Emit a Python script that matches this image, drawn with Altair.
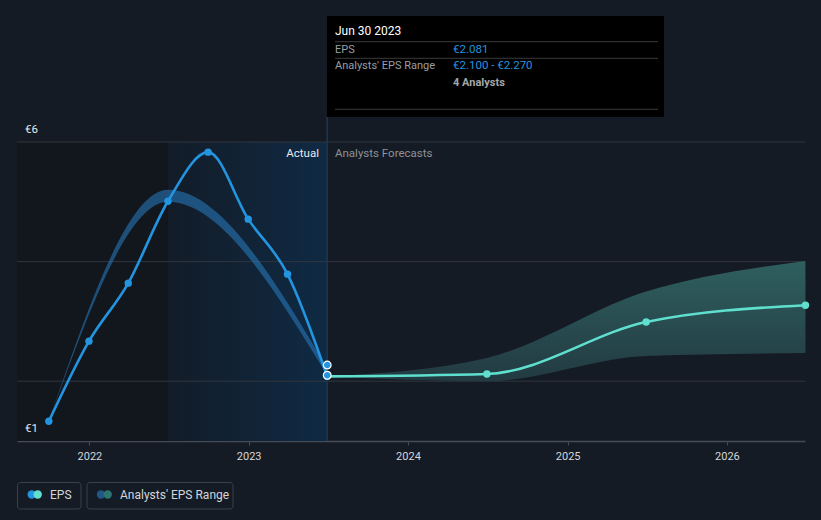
import altair as alt
import pandas as pd
import jinja2

# ---- data ----
actual_dates = ["2021-09-30", "2021-12-31", "2022-03-31", "2022-06-30",
                "2022-09-30", "2022-12-31", "2023-03-31", "2023-06-30"]
actual_eps = [1.33, 2.67, 3.64, 5.01, 5.83, 4.71, 3.79, 2.08]

hist_range_dates = ["2021-09-30", "2022-06-30", "2023-06-30"]
hist_range_low = [1.33, 5.00, 2.10]
hist_range_high = [1.33, 5.20, 2.22]

fc_dates = ["2023-06-30", "2024-06-30", "2025-06-30", "2026-06-30"]
fc_eps = [2.08, 2.12, 2.99, 3.27]
fc_low = [2.08, 2.00, 2.42, 2.47]
fc_high = [2.08, 2.39, 3.50, 4.01]

range_marker_values = [2.10, 2.27]
range_marker_date = "2023-06-30"

x_domain = ["2021-07-19", "2026-06-29"]
y_domain = [1, 6]
grid_values = [2, 4, 6]
y_label_values = [6, 1]
y_label_texts = ["€6", "€1"]
year_ticks = ["2022-01-01", "2023-01-01", "2024-01-01", "2025-01-01", "2026-01-01"]

region_past = {"start": "2021-07-19", "end": "2022-06-30"}
region_actual = {"start": "2022-06-30", "end": "2023-06-30"}

W, H = 788, 299
FONT = "Roboto"
BG = "#151b24"
BLUE = "#2394df"
TEAL = "#5fe0cf"

actual_df = pd.DataFrame({"date": actual_dates, "eps": actual_eps})
hist_df = pd.DataFrame({"date": hist_range_dates, "low": hist_range_low, "high": hist_range_high})
fc_df = pd.DataFrame({"date": fc_dates, "eps": fc_eps, "low": fc_low, "high": fc_high})
marker_df = pd.DataFrame({"date": [range_marker_date] * 2, "v": range_marker_values})
ylab_df = pd.DataFrame({"v": y_label_values, "t": y_label_texts})

xscale = alt.Scale(domain=x_domain)
yscale = alt.Scale(domain=y_domain, nice=False, zero=False)


def X(f="date"):
    return alt.X(f"{f}:T", scale=xscale, title=None,
                 axis=alt.Axis(values=year_ticks, format="%Y", labelColor="#d3d6db",
                               labelFont=FONT, labelFontSize=11, labelPadding=5,
                               tickColor="#454b55", tickSize=4, domainColor="#454b55",
                               domainWidth=1.5, grid=False, labelFlush=False))


# shaded regions
past_rect = alt.Chart(pd.DataFrame([region_past])).mark_rect(color="#12161d").encode(
    x=X("start"), x2="end:T", y=alt.value(0), y2=alt.value(H))
actual_rect = alt.Chart(pd.DataFrame([region_actual])).mark_rect(
    fill=alt.Gradient(gradient="linear", x1=0, x2=1, y1=0, y2=0,
                      stops=[alt.GradientStop(color="#131c28", offset=0),
                             alt.GradientStop(color="#0f2a44", offset=1)])).encode(
    x=X("start"), x2="end:T", y=alt.value(0), y2=alt.value(H))

grid = alt.Chart(pd.DataFrame({"v": grid_values})).mark_rule(color="#30363f", strokeWidth=1).encode(
    y=alt.Y("v:Q", scale=yscale, axis=None))

ylabels = alt.Chart(ylab_df).mark_text(align="left", baseline="middle", dy=-12, color="#e6e8eb",
                                       font=FONT, fontSize=11.5).encode(
    x=alt.value(8), y=alt.Y("v:Q", scale=yscale), text="t:N")

hist_band = alt.Chart(hist_df).mark_area(interpolate="monotone", color="#2677b8", opacity=0.6).encode(
    x=X(), y=alt.Y("low:Q", scale=yscale), y2="high:Q")

fc_band = alt.Chart(fc_df).mark_area(
    interpolate="monotone",
    fill=alt.Gradient(gradient="linear", x1=0, x2=0, y1=0, y2=1,
                      stops=[alt.GradientStop(color="#2f5f5f", offset=0),
                             alt.GradientStop(color="#223a42", offset=1)])).encode(
    x=X(), y=alt.Y("low:Q", scale=yscale), y2="high:Q")

vline = alt.Chart(pd.DataFrame({"date": [range_marker_date]})).mark_rule(color="#1b3754", strokeWidth=1.5).encode(
    x=X(), y=alt.value(-25), y2=alt.value(H))

actual_line = alt.Chart(actual_df).mark_line(interpolate="monotone", color=BLUE, strokeWidth=2.6).encode(
    x=X(), y=alt.Y("eps:Q", scale=yscale))
actual_pts = alt.Chart(actual_df).mark_circle(color=BLUE, size=55, opacity=1).encode(
    x=X(), y=alt.Y("eps:Q", scale=yscale))

fc_line = alt.Chart(fc_df).mark_line(interpolate="monotone", color=TEAL, strokeWidth=2.6).encode(
    x=X(), y=alt.Y("eps:Q", scale=yscale))
fc_pts = alt.Chart(fc_df.iloc[1:]).mark_circle(color=TEAL, size=55, opacity=1).encode(
    x=X(), y=alt.Y("eps:Q", scale=yscale))

markers = alt.Chart(marker_df).mark_point(filled=True, fill=BLUE, stroke="white", strokeWidth=1.2,
                                          size=60, opacity=1, shape="circle").encode(
    x=X(), y=alt.Y("v:Q", scale=yscale))


def txt(s, x, y, color, size=11, align="left", weight="normal", baseline="alphabetic"):
    return alt.Chart(pd.DataFrame({"t": [s]})).mark_text(
        align=align, baseline=baseline, color=color, font=FONT, fontSize=size, fontWeight=weight).encode(
        x=alt.value(x), y=alt.value(y), text="t:N")


def hline(x1, x2, y, color):
    return alt.Chart(pd.DataFrame({"k": [0]})).mark_rule(color=color, strokeWidth=1).encode(
        x=alt.value(x1), x2=alt.value(x2), y=alt.value(y))


# tooltip box
tip_box = alt.Chart(pd.DataFrame({"k": [0]})).mark_rect(color="#000000").encode(
    x=alt.value(310), x2=alt.value(647), y=alt.value(-126), y2=alt.value(-25))
tip = [
    tip_box,
    txt("Jun 30 2023", 318, -107, "#ffffff", 12),
    hline(318, 641, -100.3, "#3a3a3a"),
    txt("EPS", 318, -89.5, "#9a9ea3", 11),
    txt("€2.081", 436, -89.5, BLUE, 11.5),
    hline(318, 641, -83.7, "#3a3a3a"),
    txt("Analysts' EPS Range", 318, -73, "#9a9ea3", 11),
    txt("€2.100 - €2.270", 436, -73, BLUE, 11.5),
    txt("4 Analysts", 436, -56, "#a3a6aa", 11, weight="bold"),
    hline(318, 641, -32.7, "#3a3a3a"),
]

labels = [
    txt("Actual", 302, 12, "#e8eaee", 11.5, align="right", baseline="middle"),
    txt("Analysts Forecasts", 318, 12, "#8d9198", 11.5, baseline="middle"),
]


def box(x1, x2):
    return alt.Chart(pd.DataFrame({"k": [0]})).mark_rect(
        fill=BG, fillOpacity=0, stroke="#3b414b", strokeWidth=1, cornerRadius=3).encode(
        x=alt.value(x1), x2=alt.value(x2), y=alt.value(340.5), y2=alt.value(367))


def dot(x, color):
    return alt.Chart(pd.DataFrame({"k": [0]})).mark_circle(color=color, size=70, opacity=1).encode(
        x=alt.value(x), y=alt.value(352.5))


legend = [
    box(0.5, 64), dot(14.7, BLUE), dot(20.7, TEAL),
    txt("EPS", 33, 353, "#d3d6db", 12, baseline="middle"),
    box(70, 216), dot(84, "#1f5885"), dot(90.7, "#2d7571"),
    txt("Analysts' EPS Range", 103, 353, "#d3d6db", 12, baseline="middle"),
]

chart = alt.layer(
    past_rect, actual_rect, grid, ylabels, hist_band, fc_band, vline,
    actual_line, actual_pts, fc_line, fc_pts, markers,
    *tip, *labels, *legend
).properties(
    width=W, height=H,
    padding={"left": 17, "top": 142, "right": 16, "bottom": 79},
    autosize=alt.AutoSizeParams(type="none"),
).configure(background=BG).configure_view(stroke=None)

PAGE = jinja2.Template("""<!DOCTYPE html>
<html>
<head>
<meta charset="UTF-8">
<style>html, body { margin: 0; padding: 0; background: """ + BG + """; overflow: hidden; }</style>
<script type="text/javascript" src="{{ base_url }}/vega@{{ vega_version }}"></script>
<script type="text/javascript" src="{{ base_url }}/vega-lite@{{ vegalite_version }}"></script>
<script type="text/javascript" src="{{ base_url }}/vega-embed@{{ vegaembed_version }}"></script>
</head>
<body>
<div id="{{ output_div }}"></div>
<script type="text/javascript">
  vegaEmbed("#{{ output_div }}", {{ spec }}, {{ embed_options }}).catch(console.error);
</script>
</body>
</html>""")

chart.save("out.html", embed_options={"renderer": "svg", "actions": False}, template=PAGE)
